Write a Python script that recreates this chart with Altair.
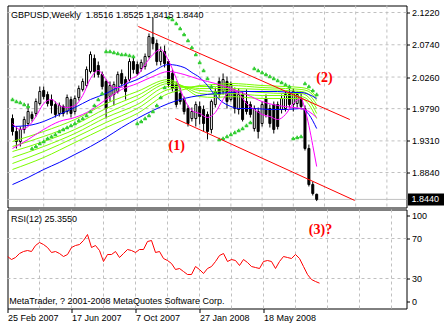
import altair as alt
import pandas as pd

# ---------------- text ----------------
SYMBOL = "GBPUSD,Weekly"
COPYRIGHT = "MetaTrader, ? 2001-2008 MetaQuotes Software Corp."
RSI_NAME = "RSI(12)"

# ---------------- axes ----------------
DATE_TICKS = [0, 16, 32, 48, 64]
DATE_LABELS = ["25 Feb 2007", "17 Jun 2007", "7 Oct 2007", "27 Jan 2008", "18 May 2008"]
GRID_X = [8, 16, 24, 32, 40, 48, 56, 64, 72, 80, 88, 96]
PRICE_TICKS = [2.1220, 2.0740, 2.0260, 1.9790, 1.9310, 1.8840]
RSI_LEVELS = [70, 30]
RSI_TICKS = [93, 70, 30, 7]
RSI_TICK_LABELS = ["100", "70", "30", "0"]

# ---------------- weekly candles ----------------
OPEN = [1.9643, 1.9450, 1.9301, 1.9480, 1.9569, 1.9703, 1.9718, 1.9866, 2.0060, 2.0000,
        1.9926, 1.9851, 1.9718, 1.9822, 1.9747, 1.9926, 1.9747, 1.9956, 2.0075, 2.0134,
        2.0342, 2.0536, 2.0432, 2.0298, 2.0194, 1.9970, 2.0000, 2.0045, 2.0313, 2.0223,
        2.0223, 2.0491, 2.0446, 2.0387, 2.0417, 2.0565, 2.0848, 2.0759, 2.0491, 2.0640,
        2.0491, 2.0313, 2.0149, 2.0015, 1.9926, 1.9792, 1.9643, 1.9643, 1.9822, 1.9777,
        1.9703, 1.9480, 1.9851, 2.0194, 2.0045, 2.0194, 1.9926, 2.0045, 1.9777, 2.0000,
        1.9896, 1.9851, 1.9494, 1.9747, 1.9569, 1.9941, 1.9792, 1.9851, 1.9851, 1.9777,
        1.9792, 2.0000, 1.9851, 1.9866, 1.9926, 1.9792, 1.9197, 1.8661, 1.8516]
HIGH = [1.9703, 1.9524, 1.9524, 1.9673, 1.9866, 1.9747, 1.9941, 2.0119, 2.0119, 2.0045,
        2.0000, 1.9896, 1.9881, 1.9851, 2.0000, 1.9970, 1.9985, 2.0134, 2.0238, 2.0417,
        2.0640, 2.0595, 2.0491, 2.0342, 2.0223, 2.0194, 2.0194, 2.0342, 2.0372, 2.0268,
        2.0536, 2.0551, 2.0491, 2.0521, 2.0610, 2.0908, 2.1146, 2.0818, 2.0714, 2.0729,
        2.0521, 2.0372, 2.0194, 2.0104, 1.9970, 1.9837, 1.9807, 1.9896, 1.9896, 1.9837,
        1.9747, 1.9926, 2.0104, 2.0253, 2.0313, 2.0268, 2.0194, 2.0104, 2.0089, 2.0045,
        2.0075, 1.9896, 1.9837, 1.9807, 1.9896, 2.0000, 1.9851, 1.9896, 1.9896, 2.0000,
        2.0045, 2.0089, 2.0089, 2.0045, 2.0015, 1.9837, 1.9256, 1.8706, 1.8525]
LOW = [1.9390, 1.9197, 1.9227, 1.9420, 1.9539, 1.9599, 1.9673, 1.9837, 1.9926, 1.9822,
       1.9718, 1.9658, 1.9673, 1.9673, 1.9703, 1.9658, 1.9703, 1.9911, 2.0045, 2.0104,
       2.0313, 2.0253, 2.0253, 2.0075, 1.9643, 1.9896, 1.9837, 2.0015, 2.0119, 1.9926,
       2.0194, 2.0313, 2.0283, 2.0342, 2.0372, 2.0536, 2.0670, 2.0432, 2.0432, 2.0402,
       2.0104, 2.0045, 1.9807, 1.9851, 1.9703, 1.9524, 1.9599, 1.9524, 1.9554, 1.9450,
       1.9331, 1.9420, 1.9807, 1.9941, 2.0000, 1.9792, 1.9896, 1.9718, 1.9703, 1.9599,
       1.9703, 1.9658, 1.9450, 1.9346, 1.9524, 1.9658, 1.9509, 1.9420, 1.9480, 1.9718,
       1.9747, 1.9807, 1.9747, 1.9807, 1.9777, 1.9167, 1.8632, 1.8498, 1.8415]
CLOSE = [1.9450, 1.9301, 1.9480, 1.9628, 1.9747, 1.9643, 1.9896, 2.0045, 1.9970, 1.9866,
         1.9837, 1.9703, 1.9837, 1.9718, 1.9956, 1.9718, 1.9941, 2.0089, 2.0194, 2.0372,
         2.0595, 2.0342, 2.0298, 2.0119, 1.9792, 2.0134, 2.0149, 2.0298, 2.0164, 2.0045,
         2.0491, 2.0372, 2.0313, 2.0476, 2.0565, 2.0863, 2.0759, 2.0491, 2.0640, 2.0461,
         2.0149, 2.0089, 1.9851, 1.9896, 1.9747, 1.9569, 1.9747, 1.9851, 1.9673, 1.9569,
         1.9450, 1.9896, 2.0045, 2.0000, 2.0223, 1.9896, 2.0149, 1.9792, 2.0000, 1.9628,
         1.9747, 1.9703, 1.9792, 1.9450, 1.9851, 1.9703, 1.9569, 1.9480, 1.9524, 1.9941,
         2.0000, 1.9851, 2.0045, 2.0000, 1.9822, 1.9197, 1.8661, 1.8528, 1.8440]

# ---------------- indicators ----------------
M1_I = [0, 2, 4, 6, 8, 10, 12, 14, 16, 18, 20, 22, 24, 26, 28, 30, 32, 34, 36, 38,
        40, 42, 44, 46, 48, 50, 52, 54, 56, 58, 60, 62, 64, 66, 68, 70, 72, 74, 75, 76, 77, 78]
M1 = [1.9569, 1.9480, 1.9524, 1.9673, 1.9866, 1.9926, 1.9837, 1.9807, 1.9837, 1.9985,
      2.0238, 2.0357, 2.0223, 2.0104, 2.0104, 2.0223, 2.0283, 2.0446, 2.0595, 2.0670,
      2.0506, 2.0238, 1.9941, 1.9762, 1.9718, 1.9658, 1.9733, 1.9926, 2.0060, 2.0015,
      1.9866, 1.9777, 1.9703, 1.9673, 1.9628, 1.9703, 1.9866, 1.9941, 1.9777, 1.9539, 1.9241, 1.8929]
M2_I = [0, 4, 8, 12, 16, 20, 24, 28, 32, 36, 40, 44, 48, 52, 56, 60, 64, 68, 72, 74, 76, 78]
M2 = [1.9197, 1.9331, 1.9480, 1.9599, 1.9658, 1.9762, 1.9926, 2.0075, 2.0164, 2.0268, 2.0342,
      2.0298, 2.0223, 2.0164, 2.0089, 2.0000, 1.9896, 1.9837, 1.9807, 1.9792, 1.9747, 1.9658]
BA_I = [0, 4, 8, 12, 16, 20, 24, 28, 32, 36, 40, 44, 46, 48, 50, 52, 54, 56, 58, 62, 66, 70, 74, 76, 78]
BLUE_A = [1.9524, 1.9539, 1.9599, 1.9703, 1.9807, 1.9926, 2.0015, 2.0134, 2.0223, 2.0342, 2.0446,
          2.0402, 2.0327, 2.0253, 2.0134, 1.9985, 1.9881, 1.9822, 1.9792, 1.9792, 1.9777, 1.9777,
          1.9792, 1.9703, 1.9494]
BB_I = [0, 4, 8, 12, 16, 20, 24, 28, 32, 36, 40, 44, 48, 52, 56, 60, 64, 68, 72, 74, 76, 78]
BLUE_B = [1.8661, 1.8766, 1.8885, 1.8989, 1.9108, 1.9227, 1.9361, 1.9509, 1.9643, 1.9762, 1.9866,
          1.9941, 1.9985, 2.0015, 2.0030, 2.0045, 2.0045, 2.0045, 2.0030, 2.0030, 2.0000, 1.9941]
G_I = [0, 8, 16, 24, 32, 40, 44, 48, 52, 56, 64, 70, 74, 76, 78]
GREEN = [
    [1.9301, 1.9450, 1.9628, 1.9866, 2.0045, 2.0223, 2.0104, 1.9970, 1.9956, 1.9970, 1.9941, 1.9941, 1.9941, 1.9851, 1.9643],
    [1.9227, 1.9376, 1.9554, 1.9792, 1.9985, 2.0194, 2.0119, 2.0015, 2.0000, 2.0015, 1.9985, 1.9985, 1.9970, 1.9911, 1.9718],
    [1.9152, 1.9301, 1.9480, 1.9718, 1.9926, 2.0164, 2.0119, 2.0060, 2.0045, 2.0060, 2.0030, 2.0015, 2.0015, 1.9956, 1.9792],
    [1.9063, 1.9227, 1.9420, 1.9658, 1.9851, 2.0119, 2.0119, 2.0089, 2.0089, 2.0089, 2.0075, 2.0060, 2.0045, 2.0000, 1.9851],
    [1.8974, 1.9152, 1.9361, 1.9584, 1.9792, 2.0075, 2.0104, 2.0119, 2.0119, 2.0134, 2.0104, 2.0089, 2.0075, 2.0045, 1.9911],
    [1.8885, 1.9063, 1.9286, 1.9509, 1.9718, 2.0015, 2.0075, 2.0134, 2.0149, 2.0164, 2.0134, 2.0119, 2.0104, 2.0075, 1.9956],
]
SAR = [1.9926, 1.9896, 1.9881, 1.9851, 1.9822,
       1.9197, 1.9227, 1.9271, 1.9301, 1.9346, 1.9375, 1.9405, 1.9450, 1.9480, 1.9509,
       1.9539, 1.9569, 1.9613, 1.9643, 1.9688, 1.9747, 1.9837, 1.9926, 2.0015,
       2.0640, 2.0640, 2.0625, 2.0610, 2.0595, 2.0595, 2.0580, 2.0565,
       1.9569, 1.9599, 1.9643, 1.9688, 1.9747, 1.9837, 1.9956, 2.0104,
       2.1146, 2.1116, 2.1056, 2.0982, 2.0893, 2.0803, 2.0699, 2.0595, 2.0476, 2.0357,
       2.0238, 2.0119, 2.0015,
       1.9331, 1.9346, 1.9375, 1.9405, 1.9435, 1.9465, 1.9494, 1.9539, 1.9584,
       2.0387, 2.0357, 2.0327, 2.0298, 2.0268, 2.0238, 2.0208, 2.0179, 2.0149, 2.0119,
       1.9346, 1.9361, 1.9375,
       2.0164, 2.0119, 2.0060, 2.0000]
RSI = [52, 49, 51, 55, 57, 58, 57, 63, 66, 64,
       61, 56, 57, 55, 52, 54, 61, 63, 64, 68,
       74, 61, 63, 58, 47, 54, 54, 57, 51, 55,
       59, 58, 56, 59, 59, 67, 68, 56, 57, 50,
       48, 45, 39, 40, 37, 34, 34, 42, 39, 35,
       40, 42, 47, 53, 55, 47, 49, 48, 43, 49,
       46, 42, 41, 40, 47, 48, 47, 40, 47, 52,
       51, 50, 54, 50, 42, 34, 29, 27, 25.355]

# trend channel drawn on the chart
TREND_NAME = ["upper", "upper", "lower", "lower"]
TREND_I = [32.25, 86.5, 41.75, 87.75]
TREND_P = [2.1012, 1.9628, 1.9643, 1.8424]

# annotations
NOTE_TEXT = ["(1)", "(2)"]
NOTE_I = [42.1, 80.0]
NOTE_P = [1.9241, 2.0253]
RSI_NOTE_TEXT = ["(3)?"]
RSI_NOTE_I = [78.25]
RSI_NOTE_V = [78.5]

# ---------------- styling ----------------
FONT = "Liberation Sans"
GRID = "#C0C0C0"
DASH = [3, 3]
W, H_MAIN, H_RSI = 399, 202, 99

N = len(CLOSE)
IDX = list(range(N))
candles = pd.DataFrame({"i": IDX, "o": OPEN, "h": HIGH, "l": LOW, "c": CLOSE})
last = candles.tail(1)

XS = alt.Scale(domain=[0, 99.75], nice=False, zero=False)
PS = alt.Scale(domain=[1.83194, 2.13241], nice=False, zero=False)
RS = alt.Scale(domain=[0, 99], nice=False, zero=False)

p_axis = alt.Axis(orient="right", values=PRICE_TICKS, format=".4f", title=None, grid=False,
                  domain=False, tickSize=3, tickColor="black", labelFont=FONT, labelFontSize=9,
                  labelColor="black", labelPadding=2, labelAlign="left", labelBaseline="middle",
                  labelFlush=False, labelOverlap=False, labelBound=False, zindex=2)

rsi_expr = " : ".join(f"datum.value == {v} ? '{t}'" for v, t in zip(RSI_TICKS, RSI_TICK_LABELS)) + " : ''"
r_axis = alt.Axis(orient="right", values=RSI_TICKS, labelExpr=rsi_expr, title=None, grid=False,
                  domain=False, tickSize=3, tickColor="black", labelFont=FONT, labelFontSize=9,
                  labelColor="black", labelPadding=2, labelAlign="left", labelBaseline="middle",
                  labelFlush=False, labelOverlap=False, labelBound=False, zindex=2)

date_expr = " : ".join(f"datum.value == {v} ? '{t}'" for v, t in zip(DATE_TICKS, DATE_LABELS)) + " : ''"
x_axis = alt.Axis(orient="bottom", values=DATE_TICKS, labelExpr=date_expr, title=None, grid=False,
                  domain=False, tickSize=4, tickColor="black", labelFont=FONT, labelFontSize=9,
                  labelColor="black", labelPadding=1, labelAlign="left", labelFlush=False,
                  labelOverlap=False)


# every layer of a panel carries the same axis definition so that they merge
def X(field):
    return alt.X(f"{field}:Q", scale=XS, axis=None)


def XR(field):
    return alt.X(f"{field}:Q", scale=XS, axis=x_axis)


def P(field):
    return alt.Y(f"{field}:Q", scale=PS, axis=p_axis)


def R(field):
    return alt.Y(f"{field}:Q", scale=RS, axis=r_axis)


# ---------------- main price panel ----------------
grid_v = alt.Chart(pd.DataFrame({"g": GRID_X})).mark_rule(
    color=GRID, strokeDash=DASH, strokeWidth=1).encode(x=X("g"))
grid_h = alt.Chart(pd.DataFrame({"p": PRICE_TICKS})).mark_rule(
    color=GRID, strokeDash=DASH, strokeWidth=1).encode(y=P("p"))
bid = alt.Chart(last).mark_rule(color=GRID, strokeWidth=1).encode(y=P("c"))

wicks = alt.Chart(candles).mark_rule(color="black", strokeWidth=1, clip=True).encode(
    x=X("i"), y=P("l"), y2="h:Q")
bodies = alt.Chart(candles).mark_bar(size=2, stroke="black", strokeWidth=1, clip=True).encode(
    x=X("i"), y=P("o"), y2="c:Q",
    fill=alt.condition("datum.c >= datum.o", alt.value("white"), alt.value("black")))

green_df = pd.DataFrame([
    {"i": i, "p": p, "k": k} for k, series in enumerate(GREEN) for i, p in zip(G_I, series)])
greens = alt.Chart(green_df).mark_line(color="#7CFC00", strokeWidth=1, clip=True,
                                       interpolate="monotone").encode(
    x=X("i"), y=P("p"), detail="k:N")


def ma(idx, vals, color):
    return alt.Chart(pd.DataFrame({"i": idx, "p": vals})).mark_line(
        color=color, strokeWidth=1, clip=True, interpolate="monotone").encode(x=X("i"), y=P("p"))


blue_b = ma(BB_I, BLUE_B, "#0000FF")
blue_a = ma(BA_I, BLUE_A, "#0000FF")
mag2 = ma(M2_I, M2, "#FF00FF")
mag1 = ma(M1_I, M1, "#FF00FF")

SAR_SHAPE = "M-1,1L-1,-0.2L-0.45,-0.2L-0.45,-1L0.45,-1L0.45,-0.2L1,-0.2L1,1Z"
sar = alt.Chart(pd.DataFrame({"i": IDX, "s": SAR})).mark_point(
    shape=SAR_SHAPE, size=13, filled=True, color="#32CD32", opacity=1, clip=True).encode(
    x=X("i"), y=P("s"))

trend = alt.Chart(pd.DataFrame({"n": TREND_NAME, "i": TREND_I, "p": TREND_P})).mark_line(
    color="#FF0000", strokeWidth=1, clip=True).encode(x=X("i"), y=P("p"), detail="n:N")

notes = alt.Chart(pd.DataFrame({"t": NOTE_TEXT, "i": NOTE_I, "p": NOTE_P})).mark_text(
    font="Liberation Serif", fontSize=14, fontWeight="bold", color="#FF0000",
    align="center", baseline="middle").encode(x=X("i"), y=P("p"), text="t:N")

title_txt = (f"{SYMBOL}\u00a0 {OPEN[-1]:.4f} {HIGH[-1]:.4f} {LOW[-1]:.4f} {CLOSE[-1]:.4f}")
title = alt.Chart(pd.DataFrame({"t": [title_txt]})).mark_text(
    font=FONT, fontSize=9, color="black", align="left", baseline="alphabetic").encode(
    x=alt.value(3.5), y=alt.value(12), text="t:N")

BOX_SHAPE = "M-1,-0.3333L1,-0.3333L1,0.3333L-1,0.3333Z"
box = alt.Chart(last).mark_point(shape=BOX_SHAPE, size=1296, filled=True, color="black",
                                 opacity=1).encode(x=alt.value(418.5), y=P("c"))
box_txt = alt.Chart(last).mark_text(font=FONT, fontSize=9, color="white", align="left",
                                    baseline="middle").encode(
    x=alt.value(404), y=P("c"), text=alt.Text("c:Q", format=".4f"))

main = alt.layer(grid_v, grid_h, bid, wicks, bodies, greens, blue_b, blue_a, mag2, mag1, sar,
                 trend, notes, title, box, box_txt).properties(width=W, height=H_MAIN)

# ---------------- RSI panel ----------------
rsi_df = pd.DataFrame({"i": IDX, "r": RSI})
r_grid_v = alt.Chart(pd.DataFrame({"g": GRID_X})).mark_rule(
    color=GRID, strokeDash=DASH, strokeWidth=1).encode(x=XR("g"))
r_grid_h = alt.Chart(pd.DataFrame({"r": RSI_LEVELS})).mark_rule(
    color=GRID, strokeDash=DASH, strokeWidth=1).encode(y=R("r"))
r_line = alt.Chart(rsi_df).mark_line(color="#FF0000", strokeWidth=1, clip=True).encode(
    x=XR("i"), y=R("r"))
r_label = alt.Chart(pd.DataFrame({"t": [f"{RSI_NAME} {RSI[-1]:.4f}"]})).mark_text(
    font=FONT, fontSize=9, color="black", align="left", baseline="alphabetic").encode(
    x=alt.value(3.5), y=alt.value(12), text="t:N")
r_copy = alt.Chart(pd.DataFrame({"t": [COPYRIGHT]})).mark_text(
    font=FONT, fontSize=9, color="black", align="left", baseline="alphabetic").encode(
    x=alt.value(1.8), y=alt.value(94), text="t:N")
r_note = alt.Chart(pd.DataFrame({"t": RSI_NOTE_TEXT, "i": RSI_NOTE_I, "r": RSI_NOTE_V})).mark_text(
    font="Liberation Serif", fontSize=14, fontWeight="bold", color="#FF0000",
    align="center", baseline="middle").encode(x=XR("i"), y=R("r"), text="t:N")

rsi = alt.layer(r_grid_v, r_grid_h, r_line, r_label, r_copy, r_note).properties(
    width=W, height=H_RSI)

chart = alt.vconcat(main, rsi, spacing=2, bounds="flush").properties(
    padding={"left": 6.5, "top": 4.5, "right": 0, "bottom": 0},
    background="white",
).configure_view(stroke="black", strokeWidth=1)

chart.save("out.html", embed_options={"renderer": "svg", "actions": False})
